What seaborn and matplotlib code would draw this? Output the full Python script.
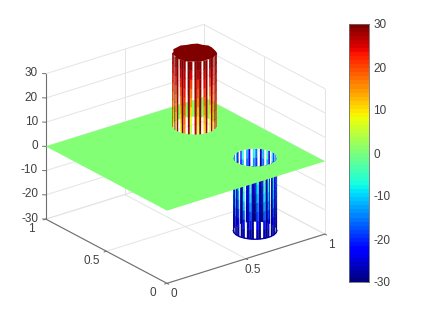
import numpy as np
import matplotlib
matplotlib.use('Agg')
import matplotlib.pyplot as plt
import seaborn as sns
from mpl_toolkits.mplot3d.art3d import Poly3DCollection

# values
x_ticks = [0, 0.5, 1]
y_ticks = [0, 0.5, 1]
z_ticks = [-30, -20, -10, 0, 10, 20, 30]
cbar_ticks = [-30, -20, -10, 0, 10, 20, 30]
peak_center = [0.75, 0.75]
pit_center = [0.75, 0.25]
radius = 0.11
peak_height = 30
pit_depth = -30
# colour value at the foot of each wall stripe, nan = gap in the wall
peak_feet = [4, 28, 8, np.nan, 29, 3, 27, np.nan, 6, 29, 14, np.nan, 28, 2, np.nan, 26, 5, 29, np.nan,
             9, 28, np.nan, 4, 27, 12, np.nan, 29, 7, 24, 5]
pit_front_tops = [-24, 2, -26, np.nan, 4, -25, -2, np.nan, -27, 5, np.nan, -20, 3, -26, np.nan, -1,
                  -24, np.nan, 4, -27, 0, np.nan, -25, 3, -22, np.nan, -26, 1, -24]
pit_back_tops = [-4, -12, np.nan, -20, -6, np.nan, -24, -2, np.nan, -9, -26, np.nan, -14, -5, np.nan,
                 -22, -10, np.nan, -3, -18, np.nan, -25, -8, np.nan, -15, -5]
rim_bumps = [1.00, 1.04, 0.97, 1.05, 1.00, 0.96, 1.04, 1.01, 1.05, 0.97, 1.03, 0.96,
             1.04, 1.00, 1.05, 0.97, 1.03, 1.00, 0.96, 1.04, 0.98, 1.05, 1.00, 0.97]

sns.set_theme(style='white')
plt.rcParams['font.family'] = ['Liberation Sans', 'DejaVu Sans']
plt.rcParams['font.size'] = 8.5

TEXT = '#404040'
AXIS = '#6e6e6e'
GRID = '#e4e4e4'
cmap = matplotlib.colormaps['jet'].resampled(64)
norm = matplotlib.colors.Normalize(-30, 30)
view_azim = -127.5


def wall_polys(center, stripes, z_top, z_bottom, start, end, top_value, power):
    # z_top end of every stripe has colour top_value, the other end the listed value
    polys, values = [], []
    edges = np.radians(np.linspace(start, end, len(stripes) + 1))
    levels = np.linspace(0, 1, 9)
    for i, v in enumerate(stripes):
        if np.isnan(v):
            continue
        mid = (edges[i] + edges[i + 1]) / 2
        half = (edges[i + 1] - edges[i]) / 2
        for a, b in zip(levels[:-1], levels[1:]):
            # stripes get thinner towards their far end, so the gaps open up
            wa, wb = half * (1 - 0.3 * a), half * (1 - 0.3 * b)
            za, zb = z_top + (z_bottom - z_top) * a, z_top + (z_bottom - z_top) * b
            ang = [mid - wa, mid + wa, mid + wb, mid - wb]
            zs = [za, za, zb, zb]
            polys.append([(center[0] + radius * np.cos(t), center[1] + radius * np.sin(t), z)
                          for t, z in zip(ang, zs)])
            f = (a + b) / 2
            values.append(top_value + (v - top_value) * f ** power)
    return polys, values


def add_wall(ax, polys, values, zorder):
    colors = cmap(norm(values))
    coll = Poly3DCollection(polys, facecolors=colors, edgecolors=colors, linewidths=0.2, zorder=zorder)
    ax.add_collection3d(coll, autolim=False)


def hole_path(center, from_pt):
    angs = np.radians(np.linspace(0, -360, 49))
    ring = [(center[0] + radius * np.cos(t), center[1] + radius * np.sin(t), 0) for t in angs]
    return [from_pt] + ring + [from_pt]


fig = plt.figure(figsize=(4.23, 3.17), dpi=100)
ax = fig.add_axes([-0.072, 0.001, 1.0, 1.0], projection='3d', computed_zorder=False)
ax.set_proj_type('ortho')
ax.view_init(elev=24, azim=view_azim)
ax.set_xlim(0, 1)
ax.set_ylim(0, 1)
ax.set_zlim(-30, 30)
ax.set_box_aspect((1, 1, 0.8), zoom=0.99)
ax.set_xticks([])
ax.set_yticks([])
ax.set_zticks([])
ax.set_axis_off()

# back walls and floor grid
for z in z_ticks:
    ax.plot([0, 1], [1, 1], [z, z], color=GRID, lw=0.7, zorder=0)
    ax.plot([1, 1], [0, 1], [z, z], color=GRID, lw=0.7, zorder=0)
for t in [0, 0.5, 1]:
    ax.plot([t, t], [1, 1], [-30, 30], color=GRID, lw=0.7, zorder=0)
    ax.plot([1, 1], [t, t], [-30, 30], color=GRID, lw=0.7, zorder=0)
    ax.plot([t, t], [0, 1], [-30, -30], color=GRID, lw=0.7, zorder=0)
    ax.plot([0, 1], [t, t], [-30, -30], color=GRID, lw=0.7, zorder=0)

# axis lines, ticks and labels
ax.plot([0, 1], [0, 0], [-30, -30], color=AXIS, lw=0.8, zorder=1)
ax.plot([0, 0], [0, 1], [-30, -30], color=AXIS, lw=0.8, zorder=1)
ax.plot([0, 0], [1, 1], [-30, 30], color=AXIS, lw=0.8, zorder=1)
for t in x_ticks:
    ax.plot([t, t], [0, -0.015], [-30, -30], color=AXIS, lw=0.7, zorder=1)
    ax.text(t + 0.009, -0.043, -33.5, f'{t:g}', color=TEXT, ha='center', va='center', fontsize=8.5)
for t in y_ticks:
    ax.plot([0, -0.015], [t, t], [-30, -30], color=AXIS, lw=0.7, zorder=1)
    ax.text(-0.07, t + 0.028, -33.5, f'{t:g}', color=TEXT, ha='center', va='center', fontsize=8.5)
for z in z_ticks:
    ax.plot([0, -0.012], [1, 1.012], [z, z], color=AXIS, lw=0.7, zorder=1)
    ax.text(-0.028, 1.028, z, f'{z:g}', color=TEXT, ha='right', va='center', fontsize=8.5)

# pit below the plane
polys, values = wall_polys(pit_center, pit_back_tops, pit_depth, 0, view_azim + 100, view_azim + 260, -30, 2.0)
add_wall(ax, polys, values, 2)
polys, values = wall_polys(pit_center, pit_front_tops, pit_depth, 0, view_azim - 90, view_azim + 90, -30, 0.8)
add_wall(ax, polys, values, 3)
rim = np.radians(np.linspace(view_azim - 90, view_azim + 90, 13))
ax.plot(pit_center[0] + radius * np.cos(rim), pit_center[1] + radius * np.sin(rim), pit_depth,
        color='#00009f', lw=1.0, zorder=3)

# plane at zero with the two openings cut out of it
plane = [(0, 0, 0), (1, 0, 0)]
plane += hole_path(pit_center, (1, pit_center[1], 0))
plane += hole_path(peak_center, (1, peak_center[1], 0))
plane += [(1, 1, 0), (0, 1, 0)]
ax.add_collection3d(Poly3DCollection([plane], facecolors=[cmap(norm(0))], edgecolors='none', zorder=4),
                    autolim=False)

# peak above the plane
polys, values = wall_polys(peak_center, peak_feet, peak_height, 0, view_azim - 90, view_azim + 90, 30, 1.0)
add_wall(ax, polys, values, 5)
top_angs = np.radians(np.linspace(0, 360, len(rim_bumps), endpoint=False))
top = [(peak_center[0] + radius * b * np.cos(t), peak_center[1] + radius * b * np.sin(t), peak_height)
       for t, b in zip(top_angs, rim_bumps)]
ax.add_collection3d(Poly3DCollection([top], facecolors=[cmap(norm(30))], edgecolors='none', zorder=6),
                    autolim=False)

# colorbar
cax = fig.add_axes([349 / 423, 1 - 282 / 317, 20 / 423, 258 / 317])
cbar_levels = np.linspace(30, -30, 64).reshape(-1, 1)
sns.heatmap(cbar_levels, cmap=cmap, vmin=-30, vmax=30, cbar=False, ax=cax, xticklabels=False)
cax.set_yticks([(30 - v) / 60 * 64 for v in cbar_ticks])
cax.set_yticklabels([f'{v:g}' for v in cbar_ticks], rotation=0)
cax.yaxis.tick_right()
cax.tick_params(axis='y', direction='in', length=2, width=0.5, color=AXIS, labelcolor=TEXT, labelsize=8.5, pad=3)
for spine in cax.spines.values():
    spine.set_visible(True)
    spine.set_edgecolor(AXIS)
    spine.set_linewidth(0.6)

fig.savefig('out.png', dpi=100)
